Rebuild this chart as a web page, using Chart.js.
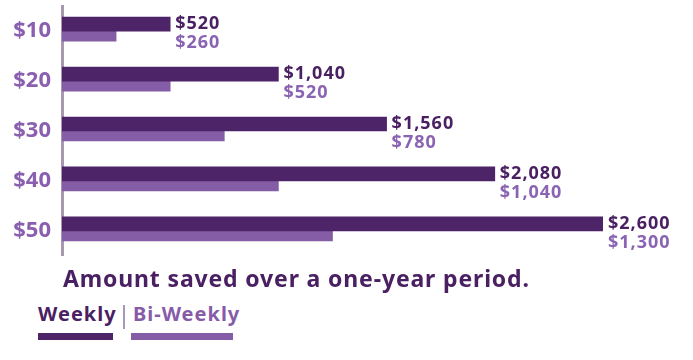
<!DOCTYPE html>
<html>
<head>
<meta charset="utf-8">
<script src="https://cdn.jsdelivr.net/npm/chart.js@4.4.1/dist/chart.umd.min.js"></script>
<style>
  body { margin: 0; background: #fff; font-family: "Noto Sans", sans-serif; }
  #wrap { position: relative; width: 693px; height: 360px; overflow: hidden; }
  #chartBox { position: absolute; left: 0; top: -18px; width: 693px; height: 298px; }
  .txt { position: absolute; font-weight: 700; white-space: nowrap; }
  #title { left: 63px; top: 267px; font-size: 23px; line-height: 23px; color: #4a2062; letter-spacing: 0.85px; }
  #lgWeekly { left: 38px; top: 304px; font-size: 20px; line-height: 20px; color: #4a2062; letter-spacing: 1px; }
  #lgBi { left: 133px; top: 304px; font-size: 20px; line-height: 20px; color: #875ba8; letter-spacing: 1px; }
  #sep { position: absolute; left: 123px; top: 305px; width: 2px; height: 24px; background: #a898b8; }
  .swatch { position: absolute; top: 333px; height: 7px; }
</style>
</head>
<body>
<div id="wrap">
  <div id="chartBox"><canvas id="savingsChart"></canvas></div>
  <div id="title" class="txt">Amount saved over a one-year period.</div>
  <div id="lgWeekly" class="txt">Weekly</div>
  <div id="sep"></div>
  <div id="lgBi" class="txt">Bi-Weekly</div>
  <div class="swatch" style="left:38px;width:75px;background:#4e2469"></div>
  <div class="swatch" style="left:131px;width:102px;background:#855ca6"></div>
</div>
<script>
// Data
const categories = ["$10", "$20", "$30", "$40", "$50"];
const weekly = [520, 1040, 1560, 2080, 2600];
const biWeekly = [260, 520, 780, 1040, 1300];

const weeklyColor = "#4e2469";
const biWeeklyColor = "#855ca6";

const money = v => "$" + v.toLocaleString("en-US");

// labels next to the end of each weekly bar
const endLabels = {
  id: "endLabels",
  afterDatasetsDraw(chart) {
    const ctx = chart.ctx;
    const wk = chart.getDatasetMeta(0).data;
    ctx.save();
    ctx.font = "700 18px 'Noto Sans'";
    ctx.letterSpacing = "1px";
    ctx.textAlign = "left";
    ctx.textBaseline = "middle";
    wk.forEach((bar, i) => {
      ctx.fillStyle = "#4a2062";
      ctx.fillText(money(weekly[i]), bar.x + 5, bar.y);
      ctx.fillStyle = "#8a63b2";
      ctx.fillText(money(biWeekly[i]), bar.x + 5, bar.y + 19);
    });
    ctx.restore();
  }
};

document.addEventListener("DOMContentLoaded", () => {
  new Chart(document.getElementById("savingsChart"), {
    type: "bar",
    data: {
      labels: categories,
      datasets: [
        { label: "Weekly", data: weekly, backgroundColor: weeklyColor, barThickness: 14 },
        { label: "Bi-Weekly", data: biWeekly, backgroundColor: biWeeklyColor, barThickness: 10 }
      ]
    },
    options: {
      indexAxis: "y",
      responsive: true,
      maintainAspectRatio: false,
      animation: false,
      layout: { padding: { left: 0, right: 90, top: 6, bottom: 5 } },
      plugins: {
        legend: { display: false },
        tooltip: { enabled: false }
      },
      scales: {
        x: { display: false, min: 0, max: 2600 },
        y: {
          afterFit: s => { s.width = 62; },
          grid: { display: false, drawTicks: false },
          border: { display: true, color: "#a898b0", width: 3 },
          ticks: {
            color: "#8a5fb0",
            padding: 11,
            font: { family: "Noto Sans", size: 22, weight: "bold" }
          }
        }
      }
    },
    plugins: [endLabels]
  });
});
</script>
</body>
</html>
